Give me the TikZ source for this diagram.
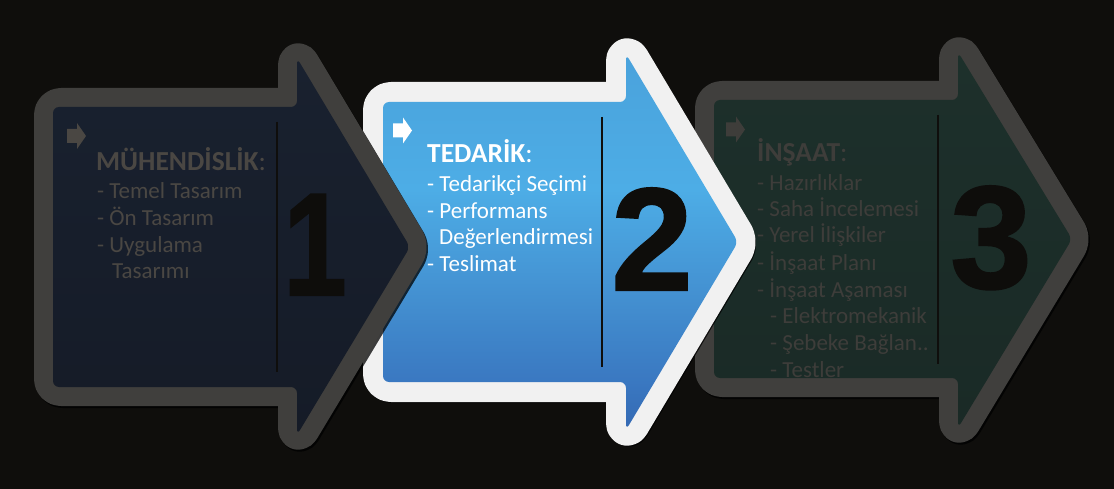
\documentclass[tikz,border=0pt]{standalone}
\usepackage{fontspec}
\setmainfont{Carlito}
\newfontfamily\digitfont{Liberation Sans}[FakeBold=1.5]
\definecolor{bg}{HTML}{0F0E0C}
\definecolor{numcol}{HTML}{0E0D0B}
\definecolor{grayborder}{HTML}{403F3D}
\definecolor{whiteborder}{HTML}{F1F1F1}
\definecolor{navyA}{HTML}{19212F}
\definecolor{navyB}{HTML}{151B27}
\definecolor{greenA}{HTML}{1D302B}
\definecolor{greenB}{HTML}{1A2A26}
\definecolor{txtA}{HTML}{4A4743}
\definecolor{txtC}{HTML}{3E3D3A}
\definecolor{bA}{HTML}{4AA2DC}
\definecolor{bB}{HTML}{4BA6DF}
\definecolor{bC}{HTML}{4DADE6}
\definecolor{bD}{HTML}{438FD0}
\definecolor{bE}{HTML}{3A78C1}
\definecolor{bF}{HTML}{3469B3}
\pgfdeclareverticalshading{blueshade}{100bp}{color(0bp)=(bF); color(25bp)=(bF); color(31.4bp)=(bE); color(42.3bp)=(bD); color(57bp)=(bC); color(68.6bp)=(bB); color(75bp)=(bA); color(100bp)=(bA)}
% #1 options, #2 L, #3 T, #4 B, #5 head base, #6 head top, #7 head bottom, #8 tip x, #9 tip y
\newcommand\arrowshape[9]{\path[#1] (#2,#9) -- (#2,#3) -- (#5,#3) -- (#5,#6) -- (#8,#9) -- (#5,#7) -- (#5,#4) -- (#2,#4) -- cycle;}
\newcommand\iconshape[3]{\path[#1] (#2,#3-7) -- (#2+10,#3-7) -- (#2+10,#3-13) -- (#2+19,#3) -- (#2+10,#3+13) -- (#2+10,#3+7) -- (#2,#3+7) -- cycle;}
\tikzset{
  bordershadow/.style={draw=black, draw opacity=0.75, line width=38pt, line join=round, rounded corners=8pt, shift={(1.5,2)}},
  bordergray/.style={draw=grayborder, line width=38pt, line join=round, rounded corners=8pt},
  borderwhite/.style={draw=whiteborder, line width=40pt, line join=round, rounded corners=8pt},
  innerfill/.style={rounded corners=6pt},
  divider/.style={draw=bg, line width=2.2pt},
  ttl/.style={anchor=base west, inner sep=0pt, font=\fontsize{27.5}{30}\selectfont},
  itm/.style={anchor=base west, inner sep=0pt, font=\fontsize{23}{27}\selectfont},
  bignumber/.style={anchor=base, inner sep=0pt, text=numcol, font=\fontsize{146}{150}\selectfont\digitfont\bfseries},
}
\begin{document}
\begin{tikzpicture}[x=1pt,y=-1pt]
\useasboundingbox (0,0) rectangle (1114,489);
\fill[bg] (0,0) rectangle (1114,489);
% ---------- arrow 3 ----------
\arrowshape{bordershadow}{714}{100}{378}{958}{52}{428}{1072}{239}
\arrowshape{bordergray}{714}{100}{378}{958}{52}{428}{1072}{239}
\arrowshape{innerfill, top color=greenA, bottom color=greenB}{714}{100}{378}{958}{52}{428}{1072}{239}
\coordinate (d3a) at (938,115); \coordinate (d3b) at (938,364);
\draw[divider] (d3a) -- (d3b);
\iconshape{fill=txtC}{726}{129.5}
\node[bignumber] (n3) at (991,288) {3};
\begin{scope}[every node/.append style={text=txtC}]
\node[ttl] (t3) at (757,162) {\textbf{İNŞAAT}:};
\node[itm] (t3a) at (757,191) {- Hazırlıklar};
\node[itm] (t3b) at (757,217) {- Saha İncelemesi};
\node[itm] (t3c) at (757,243) {- Yerel İlişkiler};
\node[itm] (t3d) at (757,270) {- İnşaat Planı};
\node[itm] (t3e) at (757,297) {- İnşaat Aşaması};
\node[itm] (t3f) at (770,323) {- Elektromekanik};
\node[itm] (t3g) at (770,350) {- Şebeke Bağlan..};
\node[itm] (t3h) at (770,377) {- Testler};
\end{scope}
% ---------- arrow 2 ----------
\arrowshape{bordershadow}{383}{102}{382}{626}{54}{430}{738}{242}
\arrowshape{borderwhite}{383}{102}{382}{626}{54}{430}{738}{242}
\arrowshape{innerfill, shading=blueshade}{383}{102}{382}{626}{54}{430}{738}{242}
\coordinate (d2a) at (602,117); \coordinate (d2b) at (602,367);
\draw[divider] (d2a) -- (d2b);
\iconshape{fill=white}{393}{130.5}
\node[bignumber] (n2) at (652,290) {2};
\begin{scope}[every node/.append style={text=white}]
\node[ttl] (t2) at (427,163) {\textbf{TEDARİK}:};
\node[itm] (t2a) at (427,192) {- Tedarikçi Seçimi};
\node[itm] (t2b) at (427,219) {- Performans};
\node[itm] (t2c) at (439,245) {Değerlendirmesi};
\node[itm] (t2d) at (427,272) {- Teslimat};
\end{scope}
% ---------- arrow 1 ----------
\arrowshape{bordershadow}{53}{107}{387}{297}{58}{435}{410}{247}
\arrowshape{bordergray}{53}{107}{387}{297}{58}{435}{410}{247}
\arrowshape{innerfill, top color=navyA, bottom color=navyB}{53}{107}{387}{297}{58}{435}{410}{247}
\coordinate (d1a) at (277,122); \coordinate (d1b) at (277,372);
\draw[divider] (d1a) -- (d1b);
\iconshape{fill=txtA}{67}{136}
\node[bignumber, xscale=0.78, transform shape] (n1) at (315,295) {1};
\begin{scope}[every node/.append style={text=txtA}]
\node[ttl] (t1) at (96,171) {\textbf{MÜHENDİSLİK}:};
\node[itm] (t1a) at (97,199) {- Temel Tasarım};
\node[itm] (t1b) at (97,226) {- Ön Tasarım};
\node[itm] (t1c) at (97,253) {- Uygulama};
\node[itm] (t1d) at (112,279) {Tasarımı};
\end{scope}
\end{tikzpicture}
\end{document}
